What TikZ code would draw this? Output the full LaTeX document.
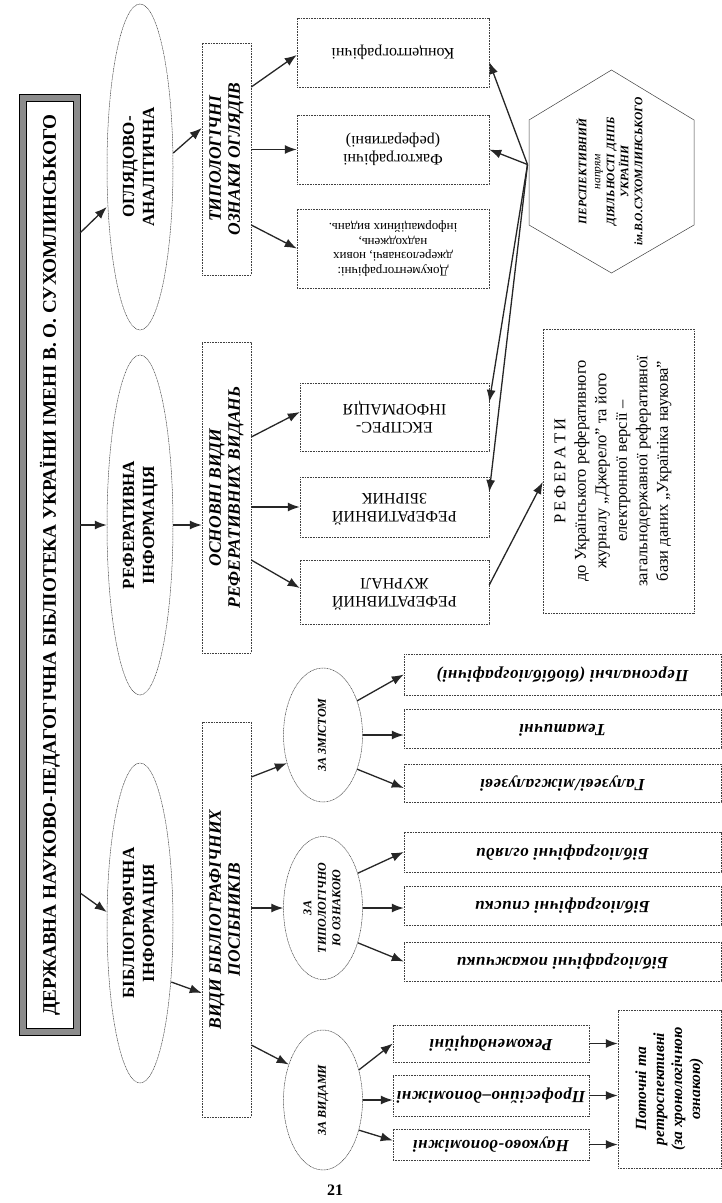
\documentclass[tikz,border=0pt]{standalone}
\usepackage{fontspec}
\setmainfont{Liberation Serif}
\usepackage{graphicx}
\usetikzlibrary{arrows.meta,shapes.geometric,calc}
\newcommand{\lns}[1]{\begin{tabular}{@{}c@{}}#1\end{tabular}}
\newcommand{\rt}[1]{\rotatebox{90}{\lns{#1}}}
\newcommand{\ud}[1]{\rotatebox{180}{\lns{#1}}}
\newcommand{\fs}[2]{\fontsize{#1}{#2}\selectfont}
\begin{document}
\begin{tikzpicture}[x=1pt,y=-1pt,
  box/.style={draw=black!75, line width=0.5pt, dash pattern=on 1pt off 0.6pt, inner sep=0pt, align=center},
  ell/.style={ellipse, draw=black!75, line width=0.5pt, dash pattern=on 1pt off 0.6pt, inner sep=0pt},
  arr/.style={-{Latex[length=12pt,width=9pt]}, line width=1.3pt, black!85},
  bigt/.style={font=\fs{17}{20}\bfseries},
  lvl/.style={font=\fs{17.5}{19}\bfseries\itshape},
  leaf/.style={font=\fs{16}{18}},
  bleaf/.style={font=\fs{17}{18}\bfseries\itshape\addfontfeature{LetterSpace=3}},
  small/.style={font=\fs{12}{14.5}\bfseries\itshape}]
\useasboundingbox[fill=white] (0,0) rectangle (722,1203);

% title
\node[inner sep=0pt, minimum width=60, minimum height=940, font=\fs{19.2}{20}\bfseries] (title) at (50,565)
  {\rotatebox{90}{ДЕРЖАВНА НАУКОВО-ПЕДАГОГІЧНА БІБЛІОТЕКА УКРАЇНИ ІМЕНІ В. О. СУХОМЛИНСЬКОГО}};
\draw[line width=6pt, black!45] ([shift={(3.5,3.5)}]title.north west) rectangle ([shift={(-3.5,-3.5)}]title.south east);
\draw[line width=0.7pt] (title.north west) rectangle (title.south east);
\draw[line width=0.7pt] ([shift={(7,7)}]title.north west) rectangle ([shift={(-7,-7)}]title.south east);

% level 1 ellipses
\node[ell, bigt, minimum width=66, minimum height=326] (e1) at (140,167) {\rt{ОГЛЯДОВО-\\АНАЛІТИЧНА}};
\node[ell, bigt, minimum width=66, minimum height=340] (e2) at (140,525) {\rt{РЕФЕРАТИВНА\\ІНФОРМАЦІЯ}};
\node[ell, bigt, minimum width=66, minimum height=320] (e3) at (140,923) {\rt{БІБЛІОГРАФІЧНА\\ІНФОРМАЦІЯ}};

% level 2 boxes
\node[box, lvl, minimum width=49, minimum height=232] (b1) at (226.5,159) {\rt{ТИПОЛОГІЧНІ\\ОЗНАКИ ОГЛЯДІВ}};
\node[box, lvl, minimum width=49, minimum height=311] (b2) at (226.5,497.5) {\rt{ОСНОВНІ ВИДИ\\РЕФЕРАТИВНИХ ВИДАНЬ}};
\node[box, lvl, minimum width=49, minimum height=395] (b3) at (226.5,919.5) {\rt{ВИДИ БІБЛІОГРАФІЧНИХ\\ПОСІБНИКІВ}};

% reviews leaves
\node[box, leaf, minimum width=192, minimum height=69] (t1) at (393,52.5) {\ud{Концептографічні}};
\node[box, leaf, minimum width=192, minimum height=69] (t2) at (393,149.5) {\ud{Фактографічні\\(реферативні)}};
\node[box, font=\fs{13}{14.5}, minimum width=192, minimum height=79] (t3) at (393,248.5)
  {\ud{Документографічні:\\джерелознавчі, нових\\надходжень,\\інформаційних видань.}};

% hexagon
\node[inner sep=0pt, font=\fs{11.5}{14}\bfseries\itshape] (hex) at (611.5,171.5)
  {\rt{ПЕРСПЕКТИВНИЙ\\{\mdseries напрям}\\ДІЯЛЬНОСТІ ДНПБ\\УКРАЇНИ\\ім.В.О.СУХОМЛИНСЬКОГО}};
\draw[line width=0.5pt, black!75] ([shift={(-82.5,-51.5)}]hex.center) -- ([shift={(0,-101.5)}]hex.center)
  -- ([shift={(82.5,-51.5)}]hex.center) -- ([shift={(82.5,53.5)}]hex.center)
  -- ([shift={(0,101.5)}]hex.center) -- ([shift={(-82.5,53.5)}]hex.center) -- cycle;
\coordinate (hexL) at ([shift={(-84,-7)}]hex.center);

% referative leaves
\node[box, leaf, minimum width=189, minimum height=68] (r1) at (394.5,417) {\ud{ЕКСПРЕС-\\ІНФОРМАЦІЯ}};
\node[box, leaf, minimum width=189, minimum height=60] (r2) at (394.5,507) {\ud{РЕФЕРАТИВНИЙ\\ЗБІРНИК}};
\node[box, leaf, minimum width=189, minimum height=64] (r3) at (394.5,592) {\ud{РЕФЕРАТИВНИЙ\\ЖУРНАЛ}};
\node[box, font=\fs{16.5}{20.5}, minimum width=151, minimum height=284] (ref) at (618.5,471)
  {\rt{Р\,Е\,Ф\,Е\,Р\,А\,Т\,И\\до Українського реферативного\\журналу „Джерело” та його\\електронної версії –\\загальнодержавної реферативної\\бази даних „Україніка наукова”}\hspace*{12pt}};

% bibliographic sub-ellipses
\node[ell, small, minimum width=79, minimum height=134] (s1) at (323,735) {\rt{ЗА ЗМІСТОМ}};
\node[ell, small, minimum width=79, minimum height=143] (s2) at (323,908) {\rt{ЗА\\ТИПОЛОГІЧНО\\Ю ОЗНАКОЮ}};
\node[ell, small, minimum width=79, minimum height=140] (s3) at (323,1100) {\rt{ЗА ВИДАМИ}};

\node[box, bleaf, minimum width=317, minimum height=41] (p1) at (562.5,674.5) {\ud{Персональні (біобібліографічні)}};
\node[box, bleaf, minimum width=317, minimum height=39] (p2) at (562.5,728.5) {\ud{Тематичні}};
\node[box, bleaf, minimum width=317, minimum height=38] (p3) at (562.5,783) {\ud{Галузеві/міжгалузеві}};
\node[box, bleaf, minimum width=317, minimum height=40] (p4) at (562.5,852) {\ud{Бібліографічні огляди}};
\node[box, bleaf, minimum width=317, minimum height=39] (p5) at (562.5,905.5) {\ud{Бібліографічні списки}};
\node[box, bleaf, minimum width=317, minimum height=39] (p6) at (562.5,961.5) {\ud{Бібліографічні покажчики}};

\node[box, bleaf, minimum width=196, minimum height=37] (k1) at (491,1043.5) {\ud{Рекомендаційні}};
\node[box, bleaf, minimum width=196, minimum height=41] (k2) at (491,1095.5) {\ud{Професійно–допоміжні}};
\node[box, bleaf, minimum width=196, minimum height=31] (k3) at (491,1144.5) {\ud{Науково-допоміжні}};
\node[box, font=\fs{15.5}{18}\bfseries\itshape, minimum width=103, minimum height=158] (pot) at (669.5,1089)
  {\rt{Поточні та\\ретроспективні\\(за хронологічною\\ознакою)}};

\node[font=\fs{16}{18}\bfseries, inner sep=0pt] (pg) at (335,1190) {21};

% connectors
\draw[arr] ([yshift=-138]title.north east) -- ([yshift=-40]e1.west);
\draw[arr] (title.east |- e2.west) -- (e2.west);
\draw[arr] ([yshift=-328]title.east) -- ([yshift=11]e3.west);

\draw[arr] ([yshift=14]e1.east) -- ([yshift=31]b1.west);
\draw[arr] (e2.east) -- (e2.east -| b2.west);
\draw[arr] ([xshift=-2,yshift=-59]e3.east) -- ([yshift=-73.5]b3.west);

\draw[arr] ([yshift=72]b1.east) -- ([yshift=-2.5]t1.west);
\draw[arr] (b1.east |- t2.west) -- (t2.west);
\draw[arr] ([yshift=-66]b1.east) -- (t3.west);

\draw[arr] (hexL) -- ([yshift=-9.5]t1.east);
\draw[arr] (hexL) -- (t2.east);
\draw[arr] (hexL) -- ([yshift=15]r1.east);
\draw[arr] (hexL) -- ([yshift=15]r2.east);

\draw[arr] ([yshift=60.5]b2.east) -- ([yshift=5]r1.west);
\draw[arr] (b2.east |- r2.west) -- (r2.west);
\draw[arr] ([yshift=-62.5]b2.east) -- ([yshift=4]r3.west);
\draw[arr] ([yshift=7]r3.east) -- ([yshift=-11]ref.west);

\draw[arr] ([yshift=142.5]b3.east) -- (s1.218);
\draw[arr] (b3.east |- s2.west) -- (s2.west);
\draw[arr] ([yshift=-125.5]b3.east) -- (s3.134);

\draw[arr] (s1.45) -- (p1.west);
\draw[arr] (s1.east) -- (s1.east -| p2.west);
\draw[arr] (s1.-45) -- ([yshift=-5]p3.west);
\draw[arr] (s2.45) -- (p4.west);
\draw[arr] (s2.east) -- (s2.east -| p5.west);
\draw[arr] (s2.-45) -- (p6.west);
\draw[arr] (s3.40) -- (k1.west);
\draw[arr] (s3.east) -- (s3.east -| k2.west);
\draw[arr] (s3.-40) -- ([yshift=4]k3.west);

\draw[arr] (k1.east) -- (k1.east -| pot.west);
\draw[arr] (k2.east) -- (k2.east -| pot.west);
\draw[arr] (k3.east) -- (k3.east -| pot.west);
\end{tikzpicture}
\end{document}
